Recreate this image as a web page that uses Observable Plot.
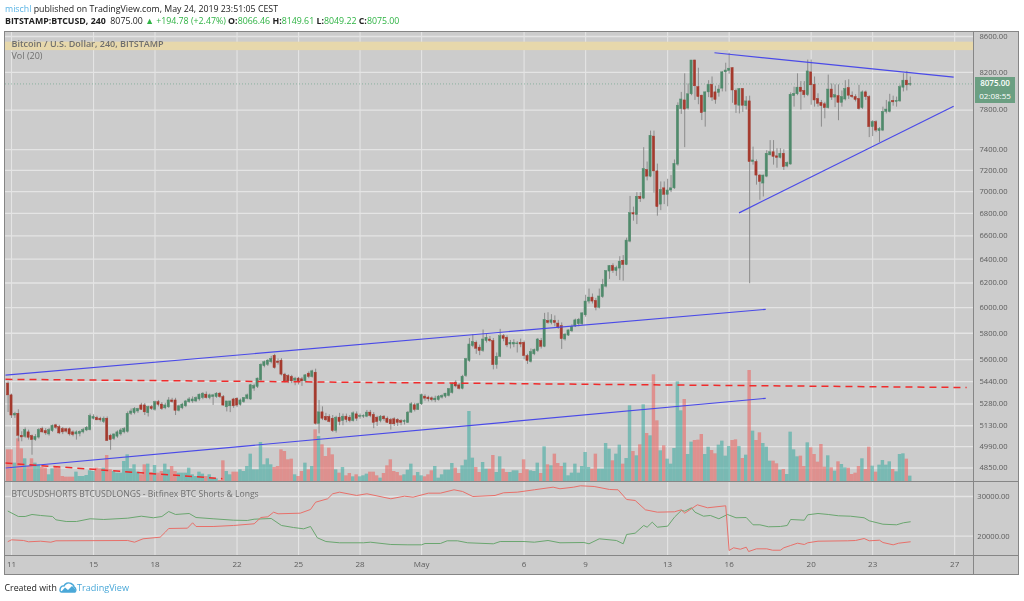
<!DOCTYPE html>
<html><head><meta charset="utf-8">
<script src="https://cdn.jsdelivr.net/npm/d3@7"></script>
<script src="https://cdn.jsdelivr.net/npm/@observablehq/plot@0.6"></script>
<style>
html,body{margin:0;padding:0;background:#fff;width:1024px;height:601px;overflow:hidden;font-family:"Open Sans",sans-serif}
#stage{position:relative;width:1024px;height:601px;filter:blur(0.35px)}
#stage svg{position:absolute;left:0;top:0;background:transparent}
.t{position:absolute;white-space:pre;line-height:1}
.l{position:absolute;background:#868686}
.g{color:#2fb344}
</style></head><body><div id="stage"></div>
<script>
// Candles, one row per 4-hour bar: open, high, low, close. Row k is bar index k-1.
const candles = [
[5425,5437,5221,5341],[5341,5350,5180,5200],[5200,5222,5180,5212],[5212,5240,5022,5062],[5062,5089,5022,5051],[5055,5115,5045,5100],[5085,5100,5033,5049],[5060,5067,4933,5033],[5033,5070,5025,5055],[5050,5110,5040,5100],
[5107,5120,5080,5085],[5093,5110,5065,5078],[5071,5112,5060,5100],[5093,5135,5085,5129],[5133,5140,5105,5116],[5120,5133,5070,5078],[5107,5118,5070,5085],[5106,5112,5080,5090],[5106,5115,5060,5071],[5085,5095,5055,5067],
[5071,5095,5033,5085],[5075,5095,5055,5089],[5085,5112,5075,5100],[5098,5125,5090,5116],[5100,5210,5095,5196],[5178,5205,5170,5190],[5183,5195,5165,5167],[5178,5188,5155,5167],[5156,5190,5145,5178],[5178,5190,5025,5027],
[5062,5072,4965,5033],[5040,5075,5030,5071],[5056,5095,5045,5085],[5071,5110,5060,5098],[5085,5118,5075,5107],[5089,5225,5080,5212],[5212,5245,5200,5228],[5216,5255,5205,5245],[5228,5250,5215,5245],[5270,5285,5235,5240],
[5270,5283,5200,5222],[5216,5265,5190,5258],[5258,5270,5235,5245],[5240,5300,5230,5293],[5293,5305,5260,5274],[5276,5290,5235,5245],[5250,5285,5240,5270],[5257,5325,5250,5305],[5305,5320,5285,5293],[5305,5320,5200,5233],
[5233,5272,5225,5264],[5250,5285,5240,5276],[5264,5305,5255,5298],[5293,5325,5285,5312],[5298,5330,5285,5312],[5298,5330,5290,5322],[5312,5350,5300,5346],[5322,5360,5310,5353],[5346,5365,5315,5322],[5322,5350,5310,5341],
[5329,5348,5270,5341],[5329,5360,5320,5353],[5353,5362,5320,5329],[5329,5340,5265,5269],[5257,5298,5225,5298],[5264,5300,5220,5298],[5312,5320,5250,5264],[5317,5325,5255,5269],[5274,5315,5265,5305],[5293,5325,5285,5322],
[5317,5350,5310,5341],[5312,5420,5305,5413],[5389,5420,5370,5408],[5401,5465,5390,5461],[5449,5570,5440,5562],[5552,5590,5540,5581],[5562,5600,5550,5593],[5581,5625,5570,5605],[5629,5640,5530,5538],[5586,5605,5560,5576],
[5593,5608,5480,5490],[5490,5500,5430,5441],[5480,5490,5425,5441],[5473,5485,5425,5441],[5446,5470,5410,5461],[5461,5470,5415,5441],[5456,5470,5405,5441],[5441,5490,5430,5485],[5497,5510,5460,5473],[5473,5522,5465,5514],
[5504,5530,5135,5143],[5143,5305,5075,5222],[5222,5260,5165,5178],[5190,5215,5160,5167],[5190,5205,5150,5156],[5178,5200,5085,5095],[5095,5195,5080,5185],[5185,5215,5130,5156],[5162,5210,5130,5192],[5192,5210,5150,5169],
[5185,5200,5150,5162],[5162,5225,5155,5215],[5208,5225,5160,5178],[5190,5210,5175,5197],[5192,5205,5180,5197],[5192,5235,5185,5220],[5220,5235,5185,5197],[5204,5220,5110,5150],[5185,5195,5125,5155],[5162,5200,5150,5192],
[5192,5200,5160,5174],[5178,5190,5145,5150],[5169,5180,5100,5140],[5174,5185,5125,5140],[5169,5178,5125,5150],[5162,5172,5130,5150],[5155,5170,5135,5162],[5150,5228,5145,5220],[5220,5290,5215,5278],[5271,5285,5225,5239],
[5239,5285,5235,5278],[5278,5350,5270,5342],[5332,5345,5300,5318],[5325,5335,5295,5313],[5320,5330,5295,5308],[5306,5335,5290,5318],[5308,5340,5300,5332],[5325,5345,5315,5337],[5332,5355,5320,5353],[5337,5390,5330,5385],
[5358,5430,5350,5420],[5432,5445,5395,5405],[5412,5425,5380,5388],[5388,5485,5380,5475],[5480,5610,5470,5604],[5590,5760,5580,5714],[5702,5790,5690,5732],[5727,5740,5640,5682],[5690,5710,5630,5665],[5665,5825,5655,5752],
[5740,5790,5725,5765],[5752,5775,5730,5740],[5740,5760,5525,5560],[5560,5650,5530,5622],[5622,5830,5615,5777],[5777,5790,5735,5757],[5765,5780,5690,5707],[5714,5745,5680,5727],[5714,5750,5690,5727],[5716,5735,5650,5722],
[5727,5755,5690,5714],[5727,5740,5600,5627],[5627,5640,5565,5590],[5583,5680,5575,5657],[5640,5680,5630,5672],[5665,5760,5655,5752],[5740,5760,5680,5697],[5697,5955,5690,5903],[5895,5960,5870,5880],[5880,5945,5865,5900],
[5895,5935,5850,5880],[5875,5900,5830,5840],[5855,5880,5677,5755],[5752,5800,5740,5790],[5782,5825,5775,5822],[5815,5865,5805,5850],[5852,5910,5845,5900],[5870,5915,5850,5905],[5870,5960,5860,5955],[5940,6100,5925,6049],
[6049,6150,6030,6081],[6081,6110,6030,6049],[6054,6075,5975,6000],[6000,6150,5990,6090],[6085,6230,6075,6184],[6170,6300,6160,6299],[6295,6345,6230,6341],[6341,6360,6280,6300],[6299,6340,6255,6325],[6320,6420,6220,6378],
[6386,6430,6215,6350],[6350,6580,6345,6559],[6550,6955,6540,6802],[6802,6857,6730,6790],[6785,6990,6700,6952],[6952,6990,6900,6930],[6935,7420,6925,7213],[7203,7280,7100,7140],[7140,7585,7130,7538],[7530,7585,6985,7190],
[7190,7260,6775,6857],[6880,7090,6825,7015],[7030,7090,6880,6970],[6970,7115,6860,7010],[7010,7150,6990,7030],[7030,7300,7020,7262],[7255,7875,7240,7845],[7810,7985,7755,7910],[7900,8184,7420,7805],[7815,8075,7800,7965],
[7965,8330,7950,8330],[8330,8335,7900,8050],[8041,8245,7855,7935],[7950,7955,7692,7768],[7778,7990,7625,7985],[7985,8110,7930,8065],[8065,8150,7890,7930],[7985,8050,7860,7905],[7980,8060,7935,8015],[8025,8210,7990,8200],
[8200,8300,7990,8220],[8215,8410,8180,8240],[8245,8250,7870,8005],[8000,8020,7765,7855],[7845,8025,7760,8020],[8020,8025,7775,7845],[7840,7940,7800,7890],[7890,7945,6194,7280],[7280,7425,7250,7295],[7280,7300,7060,7150],
[7150,7160,6920,7090],[7075,7155,6950,7150],[7140,7390,7130,7360],[7345,7490,7340,7375],[7375,7490,7250,7330],[7335,7410,7220,7320],[7320,7410,7310,7360],[7360,7400,7200,7231],[7237,7280,7225,7270],[7256,7980,7250,7960],
[7945,8040,7830,7970],[7965,8184,7950,8035],[8035,8100,7800,7990],[8000,8100,7925,7955],[7955,8335,7940,8210],[8200,8335,7850,8060],[8065,8150,7830,7900],[7915,7970,7830,7865],[7875,7900,7625,7840],[7860,7880,7710,7820],
[7820,8170,7810,8015],[8015,8075,7900,7930],[7930,8065,7825,7955],[7945,8065,7690,7875],[7875,8000,7830,7935],[7910,8110,7895,8020],[8030,8120,7910,7950],[7950,7990,7920,7935],[7935,7960,7885,7905],[7915,8060,7800,7810],
[7820,8000,7805,7985],[7985,8000,7900,7935],[7935,7950,7520,7625],[7625,7690,7530,7675],[7675,7690,7570,7590],[7585,7620,7470,7605],[7590,7830,7580,7780],[7780,7900,7760,7805],[7780,7965,7770,7880],[7895,7945,7840,7880],
[7885,7935,7830,7895],[7890,8060,7880,8040],[8035,8185,7990,8110],[8110,8210,8000,8060],[8066.46,8149.61,8049.22,8075]
];
const volumes = [
950,950,550,1280,980,680,450,680,550,500,420,400,200,380,420,400,150,130,130,130,280,150,150,180,320,300,400,380,400,780,350,300,250,250,600,800,380,500,280,200,500,520,270,480,250,300,520,350,450,300,250,250,250,400,200,150,280,220,150,200,100,80,30,620,300,200,280,280,350,300,450,820,350,350,1170,500,680,500,420,450,950,900,650,670,200,150,300,550,350,450,1550,1350,1100,750,1000,800,350,250,
420,170,240,140,200,140,170,220,280,280,170,100,240,470,650,300,270,170,200,340,520,170,270,170,140,200,320,450,100,200,340,340,540,400,240,470,640,2100,700,420,270,570,370,370,780,270,740,370,270,270,320,320,240,650,350,320,300,550,240,1040,500,470,820,540,450,550,170,250,520,250,450,870,420,370,820,370,370,1140,970,620,820,1090,520,690,2270,900,770,1100,2300,1440,1370,3200,1820,920,1070,670,520,990,2990,2120,
2460,810,1180,1230,1240,1410,810,1030,930,830,1090,1210,760,1050,1230,1250,1050,690,790,3330,1510,1230,1460,1140,1030,610,610,530,340,360,210,1480,950,740,760,450,1160,1010,810,580,1110,430,770,410,310,590,510,410,400,210,250,450,680,360,1030,460,280,490,630,490,590,360,290,810,830,670,160
];
const greenBars = [-1,2,4,6,8.5,12,13,16,19,23,27,34,38,41.5,44,46,48,52,54,59,65,69,71,76,79,82.5,85.5,87.5,89.5,92,96,103,105,111,116,120,121,125.5,127.5,130.5,133.5,141,143,150,153,157,160.5,167.5,169,172,177,179,180,182.5,185,186,187.5,189,192,194,196,197,199,200,202.5,204.5,207,209.5,212,215,217,219,221.5,225,227,228,232,233,236,239,242,245.5,249.5,251,255,259,261,263];
const greenValues = [26300,24960,24960,25470,25220,24960,24130,23700,23700,24390,24210,24540,25040,24640,24960,26220,25470,25720,24710,24390,24030,23960,24280,24460,22700,22190,21860,22440,19600,18660,18340,18340,18490,17910,17830,17830,18160,18160,18840,18840,18340,18085,18660,18660,18490,18920,18340,18410,18085,19345,18920,18085,20430,20760,22700,22270,23530,22270,22520,24790,26480,26300,27160,26050,25040,25220,24390,25470,24640,24710,22870,22870,22370,22440,22700,24210,24030,25390,25720,25470,25140,25040,24640,23880,23020,22870,23380,23630];
const redBars = [-1,0,3.5,5,8.5,11.5,13,34,36,38.5,43.5,45,46,51.5,53,54,59,65,71,73,75,76.7,78,84.5,87.5,89,92.5,94,96,101,104,111,115,117.5,122,125.5,129.5,132,135,141.5,144,148,153,158.5,160.5,164.5,166.5,170.5,175,177.5,180,182.5,185.5,189,194,196,197,200.7,203.7,209,210,211.3,213.3,215,215.7,218,221,222.7,225,226,228,230,232,233,236,244.7,247,249.5,251,254,255,258,259.6,263];
const redValues = [18660,19090,18920,18590,18740,18490,18840,18920,18490,19345,19750,21010,21940,22020,23380,22440,22440,22700,23125,24710,24890,26050,25640,25800,26730,28570,29425,30685,31090,30260,30685,29425,30080,29830,30840,30840,31690,31260,30000,30260,30940,31090,31690,32350,31945,32350,32700,32520,31770,31690,29250,29000,26650,26050,26150,26650,25800,27910,27160,27660,16400,17080,16720,17230,16140,16820,16820,16470,16470,17080,17660,18240,17910,18340,18740,18840,18920,19420,18840,18990,18410,17830,18240,18590];
const priceTicks = [8600,8200,7800,7400,7200,7000,6800,6600,6400,6200,6000,5800,5600,5440,5280,5130,4990,4850];
const lowerTicks = [30000,20000];
const xTickBars = [0,24,42,66,84,102,120,150,168,192,210,234,252,276];
const xTickLabels = ["11","15","18","22","25","28","May","6","9","13","16","20","23","27"];
// Drawn trend lines: [bar1, price1, bar2, price2]
const blueLines = [[205.7,8416,275.7,8148],[212.9,6805,275.7,7840],[-1.76,5486,220.7,5987],[-1.76,4850,220.7,5320]];
const redDashed = [[-1.76,5456,279.5,5397],[-1.76,4882,61.7,4782]];
const highlightBand = [8440,8535];
const lastPrice = 8075;

const bars = candles.map((r,k)=>({i:k-1,o:r[0],h:r[1],l:r[2],c:r[3],v:volumes[k],up:r[3]>=r[0]}));
const xDom=[-1.756,281.8], W=1024, H=601;
const axisFill="#5c5c5c", labelFill="#6f6f6f", gridCol="#e4e4e4", font="Open Sans";
const priceOpts={width:W,height:H,marginLeft:5,marginRight:50,marginTop:31,marginBottom:120,
  x:{type:"linear",domain:xDom,axis:null},
  y:{type:"log",domain:[4764,8657],axis:null},style:{background:"transparent"}};
const stage=document.getElementById("stage");
const add=el=>{stage.appendChild(el);return el};
const divAdd=(css,txt,cls)=>{const d=document.createElement("div");d.className=cls||"t";d.style.cssText=css;if(txt)d.innerHTML=txt;stage.appendChild(d);return d};

divAdd("left:4px;top:31px;width:1015px;height:543px;background:#cccccc","","l");

// layer 0: grid, band, price axis
add(Plot.plot({...priceOpts,marks:[
  Plot.ruleY(priceTicks,{stroke:gridCol,strokeWidth:1.3}),
  Plot.ruleX(xTickBars,{stroke:gridCol,strokeWidth:1.1}),
  Plot.rect([highlightBand],{x1:xDom[0],x2:xDom[1],y1:d=>d[0],y2:d=>d[1],fill:"#e7d8ab"}),
  Plot.axisY(priceTicks,{anchor:"right",tickSize:0,tickPadding:19,textAnchor:"middle",label:null,tickFormat:d3.format(".2f"),fontSize:7.6,fill:axisFill,fontFamily:font}),
  Plot.text(["Bitcoin / U.S. Dollar, 240, BITSTAMP"],{frameAnchor:"top-left",dx:6,dy:9,textAnchor:"start",fontSize:9,fontWeight:600,fill:labelFill,fontFamily:font}),
  Plot.text(["Vol (20)"],{frameAnchor:"top-left",dx:6,dy:21,textAnchor:"start",fontSize:9,fill:labelFill,fontFamily:font})
]}));

// layer 1: volume
add(Plot.plot({width:W,height:H,marginLeft:5,marginRight:50,marginTop:31,marginBottom:120,
  x:{type:"linear",domain:xDom,axis:null},y:{domain:[0,13500],axis:null},style:{background:"transparent"},
  marks:[Plot.rect(bars,{x1:d=>d.i-0.5,x2:d=>d.i+0.5,y1:0,y2:"v",fill:d=>d.up?"#26a69a":"#ef5350",fillOpacity:0.5})]}));

// layer 2: candles and drawings
add(Plot.plot({...priceOpts,marks:[
  Plot.ruleY([lastPrice],{stroke:"#6fa58d",strokeWidth:0.7,strokeDasharray:"1,2"}),
  Plot.ruleX(bars,{x:"i",y1:"l",y2:"h",stroke:"#7c7c7c",strokeWidth:1,strokeOpacity:0.8}),
  Plot.rect(bars,{x1:d=>d.i-0.32,x2:d=>d.i+0.32,y1:"o",y2:"c",fill:d=>d.up?"#4f8a6b":"#a53a2e",stroke:d=>d.up?"#4f8a6b":"#a53a2e",strokeWidth:0.5}),
  Plot.link(blueLines,{x1:d=>d[0],y1:d=>d[1],x2:d=>d[2],y2:d=>d[3],stroke:"#4a4ae8",strokeWidth:1.2}),
  Plot.link(redDashed,{x1:d=>d[0],y1:d=>d[1],x2:d=>d[2],y2:d=>d[3],stroke:"#f02b2b",strokeWidth:1.5,strokeDasharray:"7,5",clip:true})
]}));

// lower pane
const toSeries=(xs,ys)=>xs.map((x,k)=>({x,y:ys[k]}));
add(Plot.plot({width:W,height:H,marginLeft:5,marginRight:50,marginTop:482,marginBottom:46,
  x:{type:"linear",domain:xDom,axis:null},y:{domain:[15139,33526],axis:null},style:{background:"transparent"},
  marks:[
    Plot.ruleY(lowerTicks,{stroke:gridCol,strokeWidth:1.3}),
    Plot.ruleX(xTickBars,{stroke:gridCol,strokeWidth:1.1}),
    Plot.line(toSeries(greenBars,greenValues),{x:"x",y:"y",stroke:"#6aa66f",strokeWidth:1}),
    Plot.line(toSeries(redBars,redValues),{x:"x",y:"y",stroke:"#e8706a",strokeWidth:1}),
    Plot.axisY(lowerTicks,{anchor:"right",tickSize:0,tickPadding:19,textAnchor:"middle",label:null,tickFormat:d=>String(d)+".00",fontSize:7.6,fill:axisFill,fontFamily:font}),
    Plot.axisX(xTickBars,{anchor:"bottom",tickSize:0,tickPadding:6,label:null,tickFormat:d=>xTickLabels[xTickBars.indexOf(d)],fontSize:8,fill:axisFill,fontFamily:font}),
    Plot.text(["BTCUSDSHORTS BTCUSDLONGS - Bitfinex BTC Shorts & Longs"],{frameAnchor:"top-left",dx:6,dy:8,textAnchor:"start",fontSize:8.6,fill:labelFill,fontFamily:font})
  ]}));

// panel borders
divAdd("left:4px;top:31px;width:1015px;height:1px","","l");
divAdd("left:4px;top:574px;width:1015px;height:1px","","l");
divAdd("left:4px;top:31px;width:1px;height:544px","","l");
divAdd("left:1018px;top:31px;width:1px;height:544px","","l");
divAdd("left:973px;top:31px;width:1px;height:544px","","l");
divAdd("left:4px;top:481px;width:1015px;height:1px","","l");
divAdd("left:4px;top:555px;width:1015px;height:1px","","l");

// price tags
divAdd("left:975px;top:77px;width:40px;height:12.5px;background:#6b9f82;color:#fff;font-size:8px;font-weight:600;text-align:center;line-height:12.5px","8075.00");
divAdd("left:975px;top:90px;width:40px;height:12.5px;background:#6b9f82;color:#fff;font-size:8px;text-align:center;line-height:12.5px","02:08:55");

// header and footer
divAdd("left:5px;top:4.5px;font-size:8.8px;color:#222",'<span style="color:#5ab4e5">mischl</span> published on TradingView.com, May 24, 2019 23:51:05 CEST');
divAdd("left:5px;top:16.5px;font-size:8.8px;color:#222",'<b>BITSTAMP:BTCUSD, 240</b>  8075.00 <span class="g">▲</span> <span class="g">+194.78 (+2.47%)</span> <b>O:</b><span class="g">8066.46</span> <b>H:</b><span class="g">8149.61</span> <b>L:</b><span class="g">8049.22</span> <b>C:</b><span class="g">8075.00</span>');
divAdd("left:4.5px;top:583.5px;font-size:8.8px;color:#222",'Created with');
divAdd("left:59px;top:582px;width:18px;height:12px",'<svg width="18" height="12" style="position:static;display:block"><path d="M1 8 C1 5 3 3.5 5 4 C6 1.5 9 0 12 1.5 C14 2.5 15 4 15 5 C17 6 17.5 8.5 16 10 L2.5 10 C1.5 10 1 9 1 8Z" fill="none" stroke="#4aa8d8" stroke-width="1.4"/><path d="M2 10 L6 5.5 L9 8 L13 4 L16 7 L16 10Z" fill="#4aa8d8"/></svg>');
divAdd("left:77px;top:583px;font-size:9.1px;color:#4aa8d8",'TradingView');
</script></body></html>
